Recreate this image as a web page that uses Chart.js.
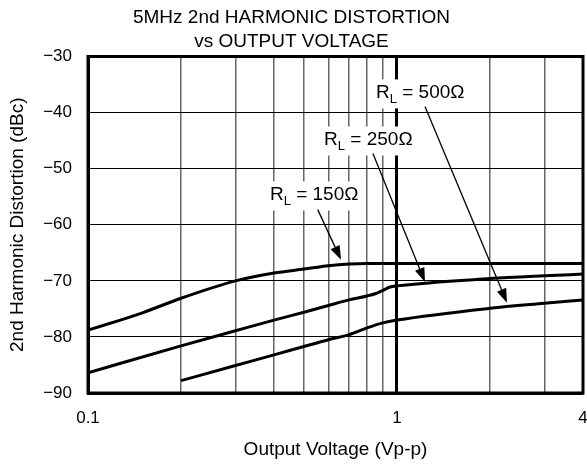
<!DOCTYPE html>
<html>
<head>
<meta charset="utf-8">
<script src="https://cdn.jsdelivr.net/npm/chart.js@4.4.1/dist/chart.umd.min.js"></script>
<style>
html,body{margin:0;padding:0;background:#fff;}
#wrap{width:587px;height:466px;position:relative;}
</style>
</head>
<body>
<div id="wrap"><canvas id="c" width="587" height="466"></canvas></div>
<script>
// ---- data ----
const titleLines = ['5MHz 2nd HARMONIC DISTORTION', 'vs OUTPUT VOLTAGE'];
const xTitle = 'Output Voltage (Vp-p)';
const yTitle = '2nd Harmonic Distortion (dBc)';
const xGridValues = [0.1, 0.2, 0.3, 0.4, 0.5, 0.6, 0.7, 0.8, 0.9, 1, 2, 3, 4];
const xTickLabels = [0.1, 1, 4];
const yTickValues = [-90, -80, -70, -60, -50, -40, -30];

const x150 = [0.1, 0.15, 0.2, 0.3, 0.4, 0.5, 0.6, 0.7, 0.8, 1, 2, 4];
const y150 = [-78.8, -75.7, -73.1, -70.0, -68.6, -67.9, -67.3, -67.0, -66.9, -66.9, -66.9, -66.9];

const x250 = [0.1, 0.2, 0.3, 0.4, 0.5, 0.6, 0.7, 0.8, 0.85, 0.9, 0.95, 1, 2, 3, 4];
const y250 = [-86.4, -81.6, -78.9, -77.0, -75.6, -74.4, -73.4, -72.7, -72.3, -71.7, -71.1, -70.9, -69.6, -69.1, -68.8];

const x500 = [0.2, 0.3, 0.4, 0.5, 0.6, 0.7, 0.8, 0.9, 1, 2, 3, 4];
const y500 = [-87.8, -85.1, -83.2, -81.7, -80.5, -79.6, -78.4, -77.5, -77.0, -74.9, -74.0, -73.4];

// curve labels (left edge / vertical middle, data coords)
const labelNames = ['150', '250', '500'];
const labelX = [0.388, 0.581, 0.855];
const labelY = [-54.6, -44.8, -36.4];
// arrows from (x0, y0) to (x1, y1), data coords
const arrowX0 = [0.554, 0.836, 1.232];
const arrowY0 = [-57.3, -47.3, -38.9];
const arrowX1 = [0.659, 1.232, 2.27];
const arrowY1 = [-66.25, -70.2, -73.9];

const FONT = "'Liberation Sans', Arial, sans-serif";
const TXT = 19, TICK = 17;
const toPts = (xs, ys) => xs.map((x, i) => ({x, y: ys[i]}));

const annot = {
  id: 'annot',
  afterDatasetsDraw(chart) {
    const {ctx, scales: {x, y}} = chart;
    ctx.save();
    ctx.strokeStyle = '#000';
    ctx.textBaseline = 'middle';
    for (let i = 0; i < labelNames.length; i++) {
      const px0 = x.getPixelForValue(labelX[i]);
      const py = y.getPixelForValue(labelY[i]);
      ctx.font = TXT + 'px ' + FONT;
      const wR = ctx.measureText('R').width;
      const wRest = ctx.measureText(' = ' + labelNames[i] + 'Ω').width;
      ctx.font = '13px ' + FONT;
      const wL = ctx.measureText('L').width;
      ctx.fillStyle = '#fff';
      ctx.fillRect(px0 - 3, py - 13, wR + wL + wRest + 6, 29);

      ctx.fillStyle = '#000';
      let px = px0;
      ctx.font = TXT + 'px ' + FONT;
      ctx.fillText('R', px, py);
      px += wR;
      ctx.font = '13px ' + FONT;
      ctx.fillText('L', px, py + 7);
      px += wL;
      ctx.font = TXT + 'px ' + FONT;
      ctx.fillText(' = ' + labelNames[i] + 'Ω', px, py);

      const x0 = x.getPixelForValue(arrowX0[i]), y0 = y.getPixelForValue(arrowY0[i]);
      const x1 = x.getPixelForValue(arrowX1[i]), y1 = y.getPixelForValue(arrowY1[i]);
      const ang = Math.atan2(y1 - y0, x1 - x0);
      const L = 14, W = 5;
      const bx = x1 - L * Math.cos(ang), by = y1 - L * Math.sin(ang);
      ctx.lineWidth = 1.3;
      ctx.beginPath(); ctx.moveTo(x0, y0); ctx.lineTo(bx, by); ctx.stroke();
      ctx.beginPath();
      ctx.moveTo(x1, y1);
      ctx.lineTo(bx + W * Math.sin(ang), by - W * Math.cos(ang));
      ctx.lineTo(bx - W * Math.sin(ang), by + W * Math.cos(ang));
      ctx.closePath(); ctx.fill();
    }
    ctx.restore();
  }
};

const ds = (xs, ys) => ({
  data: toPts(xs, ys),
  borderColor: '#000',
  borderWidth: 3,
  pointRadius: 0,
  fill: false,
  tension: 0.3,
  cubicInterpolationMode: 'monotone'
});

new Chart(document.getElementById('c'), {
  type: 'line',
  data: { datasets: [ds(x150, y150), ds(x250, y250), ds(x500, y500)] },
  options: {
    responsive: false,
    animation: false,
    layout: { padding: { left: 0, right: 4, top: 0, bottom: 0 } },
    plugins: {
      legend: { display: false },
      tooltip: { enabled: false },
      title: {
        display: true,
        text: titleLines,
        color: '#000',
        font: { family: FONT, size: TXT, weight: 'normal', lineHeight: 1.25 },
        padding: { top: 6, bottom: 3 }
      }
    },
    scales: {
      x: {
        type: 'logarithmic',
        min: 0.1, max: 4,
        afterBuildTicks: (s) => { s.ticks = xGridValues.map(v => ({value: v})); },
        afterFit: (s) => { s.height = 73; s.paddingRight = 0; s.paddingLeft = 0; },
        ticks: {
          autoSkip: false, maxRotation: 0, padding: 15,
          color: '#000', font: { family: FONT, size: TICK },
          callback: (v) => xTickLabels.includes(v) ? String(v) : ''
        },
        grid: {
          drawTicks: false,
          color: (c) => c.tick && c.tick.value === 1 ? '#000' : '#666',
          lineWidth: (c) => c.tick && c.tick.value === 1 ? 3 : 1.5
        },
        border: { display: true, color: '#000', width: 3 },
        title: {
          display: true, text: xTitle, color: '#000',
          font: { family: FONT, size: TXT, lineHeight: 1.2 }, padding: { top: 0, bottom: 5 }
        }
      },
      y: {
        min: -90, max: -30,
        afterBuildTicks: (s) => { s.ticks = yTickValues.map(v => ({value: v})); },
        afterFit: (s) => { s.width = 88; },
        ticks: {
          padding: 16, color: '#000', font: { family: FONT, size: TICK },
          callback: (v) => '\u2212' + Math.abs(v)
        },
        grid: { drawTicks: false, color: '#000', lineWidth: 1 },
        border: { display: true, color: '#000', width: 3 },
        title: {
          display: true, text: yTitle, color: '#000',
          font: { family: FONT, size: TXT, lineHeight: 1.2 }, padding: { top: 6, bottom: 0 }
        }
      }
    }
  },
  plugins: [annot, {
    id: 'frame',
    afterDatasetsDraw(chart) {
      const {ctx, chartArea: a} = chart;
      ctx.save();
      ctx.strokeStyle = '#000'; ctx.lineWidth = 3;
      ctx.strokeRect(a.left, a.top, a.right - a.left, a.bottom - a.top);
      ctx.restore();
    }
  }]
});
</script>
</body>
</html>
